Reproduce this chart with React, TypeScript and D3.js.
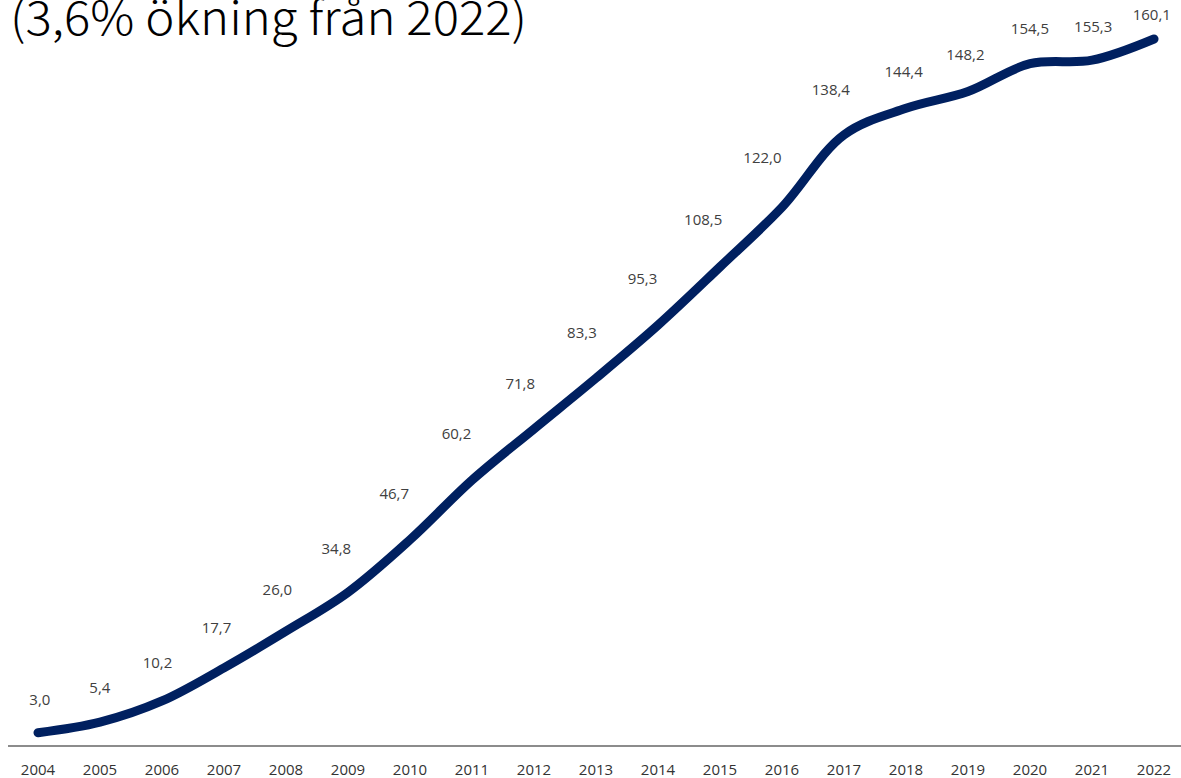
import React from "react";
import * as d3 from "d3";

const years = ["2004","2005","2006","2007","2008","2009","2010","2011","2012","2013","2014","2015","2016","2017","2018","2019","2020","2021","2022"];
const values = [3.0,5.4,10.2,17.7,26.0,34.8,46.7,60.2,71.8,83.3,95.3,108.5,122.0,138.4,144.4,148.2,154.5,155.3,160.1];
const title = "(3,6% ökning från 2022)";

const W = 1181, H = 778;

export default function App() {
  const x = d3.scalePoint<string>().domain(years).range([38, 1154]);
  const y = d3.scaleLinear().domain([0, 160.1]).range([746, 39]);
  const line = d3.line<number>()
    .x((_, i) => x(years[i])!)
    .y(d => y(d))
    .curve(d3.curveCatmullRom.alpha(0.5));
  const fmt = (v: number) => v.toFixed(1).replace(".", ",");
  const step = x.step();

  const labels = values.map((v, i) => {
    const a = values[Math.max(0, i - 1)], b = values[Math.min(values.length - 1, i + 1)];
    const span = (Math.min(values.length - 1, i + 1) - Math.max(0, i - 1)) * step;
    const s = (y(a) - y(b)) / span;
    const px = x(years[i])!;
    const py = y(v);
    const dx = -24 * s + 6;
    const dy = -(29 + 18 * s);
    return { t: fmt(v), lx: px + dx, ly: Math.max(16, py + dy) };
  });

  return (
    <svg width={W} height={H} style={{ position: "absolute", left: 0, top: 0, background: "#fff" }}>
      <text x={10} y={35} fontFamily="Noto Sans CJK JP, Noto Sans, sans-serif" fontWeight={300} fontSize={46} fill="#000" textLength={517} lengthAdjust="spacingAndGlyphs">{title}</text>
      <line x1={8} x2={1181} y1={746} y2={746} stroke="#8c8c8c" strokeWidth={2} />
      {years.map(yr => (
        <text key={yr} x={x(yr)!} y={775} textAnchor="middle" fontFamily="Open Sans, Noto Sans, sans-serif" fontSize={15} fill="#333">{yr}</text>
      ))}
      <path d={line(values) || ""} fill="none" stroke="#002060" strokeWidth={9} strokeLinecap="round" strokeLinejoin="round" />
      {labels.map((l, i) => (
        <text key={i} x={l.lx} y={l.ly} textAnchor="middle" dominantBaseline="middle" fontFamily="Open Sans, Noto Sans, sans-serif" fontSize={15} fill="#404040">{l.t}</text>
      ))}
    </svg>
  );
}
